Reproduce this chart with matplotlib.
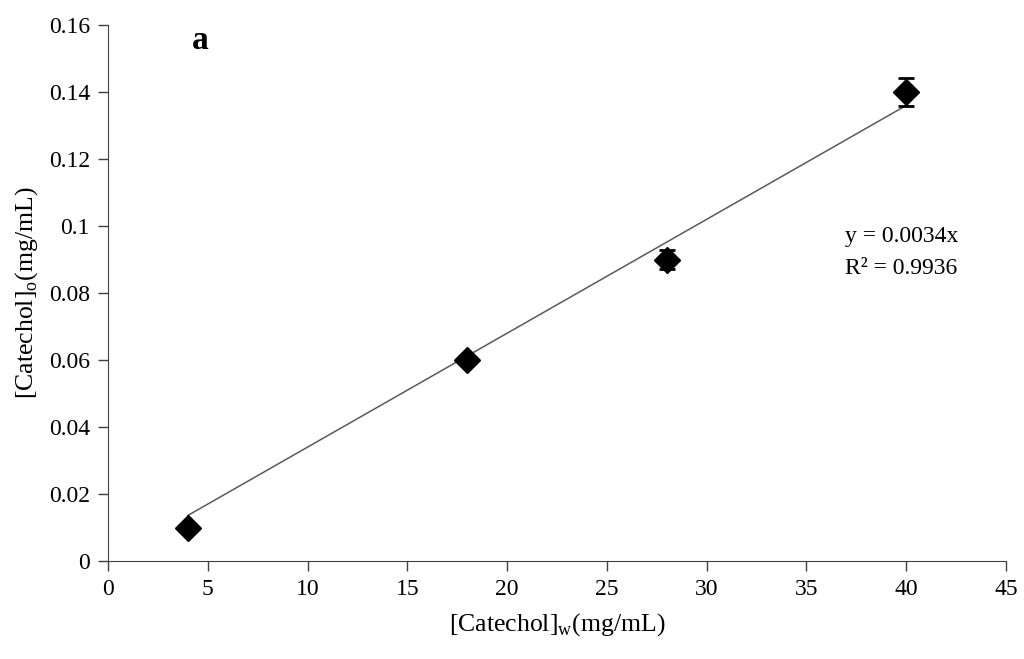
import numpy as np
import matplotlib
matplotlib.use("Agg")
import matplotlib.pyplot as plt

plt.rcParams['font.family'] = ['Liberation Serif', 'DejaVu Serif']
plt.rcParams['mathtext.fontset'] = 'custom'
plt.rcParams['mathtext.rm'] = 'Liberation Serif'

# data
conc_w = [4, 18, 28, 40]
conc_o = [0.01, 0.06, 0.09, 0.14]
conc_err = [0.0, 0.001, 0.0028, 0.0043]
slope = 0.0034
r2 = 0.9936

xticks = [0, 5, 10, 15, 20, 25, 30, 35, 40, 45]
yticks = [0, 0.02, 0.04, 0.06, 0.08, 0.1, 0.12, 0.14, 0.16]
ylbls = ['0', '0.02', '0.04', '0.06', '0.08', '0.1', '0.12', '0.14', '0.16']

fig = plt.figure(figsize=(10.24, 6.59), dpi=100)
ax = fig.add_axes([0.1055, 0.1487, 0.8769, 0.8133])

# linear trendline through origin
xf = np.array([conc_w[0], conc_w[-1]])
ax.plot(xf, slope*xf, color='#5a5a5a', lw=1.1, zorder=1)

ax.errorbar(conc_w, conc_o, yerr=conc_err, fmt='D', color='black',
            ms=13, capsize=5.5, capthick=2, elinewidth=1.2, zorder=3)

ax.text(0.821, 0.606, "y = 0.0034x", transform=ax.transAxes, fontsize=17,
        ha='left', va='center')
ax.text(0.821, 0.546, "R² = %.4f" % r2, fontsize=17,
        ha='left', va='center', transform=ax.transAxes)
ax.text(0.103, 0.972, "a", transform=ax.transAxes, fontsize=24,
        fontweight='bold', ha='center', va='center')

ax.set_xlim(0, 45)
ax.set_ylim(0, 0.16)
ax.set_xticks(xticks)
ax.set_yticks(yticks, ylbls)
ax.tick_params(labelsize=17, length=7, width=1, color='#404040', pad=6)

for s in ('top', 'right'):
    ax.spines[s].set_visible(False)
for s in ('left', 'bottom'):
    ax.spines[s].set_color('#404040')

ax.set_xlabel(r"[Catechol]$_{\mathrm{w}}$(mg/mL)", fontsize=18.5, labelpad=8)
ax.set_ylabel(r"[Catechol]$_{\mathrm{o}}$(mg/mL)", fontsize=18.5, labelpad=6)

fig.savefig("out.png", dpi=100)
